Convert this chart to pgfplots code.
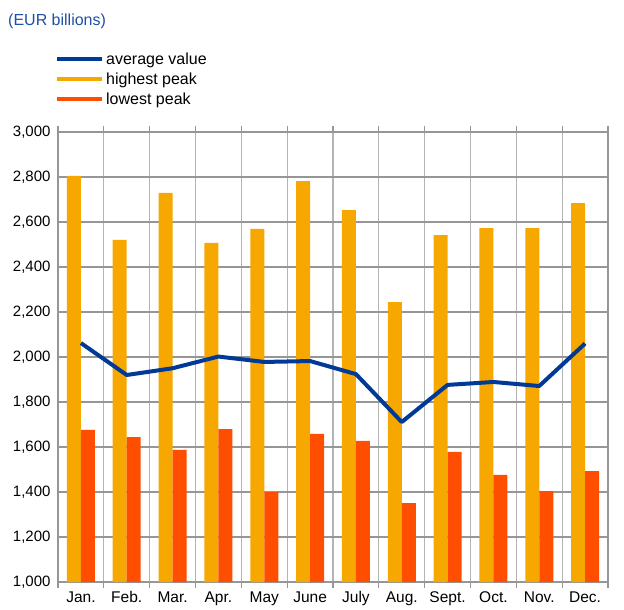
\documentclass[border=0pt]{standalone}
\usepackage{pgfplots}
\pgfplotsset{compat=1.18}
\usepackage{fontspec}
\setmainfont{Liberation Sans}
\definecolor{avgblue}{RGB}{0,58,150}
\definecolor{hiorange}{RGB}{247,168,0}
\definecolor{lored}{RGB}{255,78,0}
\definecolor{titleblue}{RGB}{30,80,165}
\definecolor{gridh}{RGB}{150,150,150}
\definecolor{gridv}{RGB}{180,180,180}
\begin{document}
\begin{tikzpicture}
\begin{axis}[
  name=ax,
  scale only axis,
  width=550bp, height=450bp,
  xmin=-0.5, xmax=11.5,
  ymin=1000, ymax=3000,
  ytick={1000,1200,...,3000},
  xtick={0,...,11},
  xticklabels={Jan.,Feb.,Mar.,Apr.,May,June,July,Aug.,Sept.,Oct.,Nov.,Dec.},
  minor xtick={-0.5,0.5,...,11.5},
  ymajorgrids, xminorgrids,
  major grid style={draw=gridh, line width=1.3bp},
  minor grid style={draw=gridv, line width=1.3bp},
  major tick length=0pt,
  minor tick length=6bp,
  tick align=outside,
  minor x tick style={draw=gridh, line width=1.3bp},
  axis line style={draw=gridh, line width=1.3bp},
  tick label style={font=\fontsize{15bp}{18bp}\selectfont, text=black},
  /pgf/number format/assume math mode=true,
  /pgf/number format/.cd, 1000 sep={,},
  /pgfplots/.cd,
  yticklabel style={xshift=-4bp},
  xticklabel style={yshift=-6bp, text height=11bp, text depth=3bp, font=\fontsize{15.5bp}{18bp}\selectfont},
  legend cell align=left,
  legend style={draw=none, fill=none, at={(0,1)}, anchor=south west,
    yshift=24bp, xshift=-3bp, font=\fontsize{16bp}{19bp}\selectfont,
    row sep=3bp, inner sep=0pt},
  legend image code/.code={\draw[#1] (0bp,0bp) -- (34bp,0bp); \path (34bp,0bp) -- (45bp,0bp);},
  clip=true,
]
\addlegendimage{draw=avgblue, line width=4bp}
\addlegendentry{average value}
\addlegendimage{draw=hiorange, line width=4bp}
\addlegendentry{highest peak}
\addlegendimage{draw=lored, line width=4bp}
\addlegendentry{lowest peak}

\addplot[ybar, bar width=14bp, bar shift=-7bp, fill=hiorange, draw=none, forget plot]
coordinates {(0,2805) (1,2520) (2,2729) (3,2507) (4,2569) (5,2782) (6,2653) (7,2244) (8,2542) (9,2573) (10,2573) (11,2684)};
\addplot[ybar, bar width=14bp, bar shift=7bp, fill=lored, draw=none, forget plot]
coordinates {(0,1676) (1,1644) (2,1587) (3,1680) (4,1400) (5,1658) (6,1627) (7,1351) (8,1578) (9,1476) (10,1404) (11,1493)};
\addplot[draw=avgblue, line width=4bp, line join=round, forget plot]
coordinates {(0,2062) (1,1920) (2,1950) (3,2002) (4,1978) (5,1982) (6,1924) (7,1711) (8,1876) (9,1889) (10,1871) (11,2060)};
\end{axis}
\node[anchor=west, text=titleblue, font=\fontsize{16bp}{19bp}\selectfont, inner sep=0pt]
  at ([xshift=-50bp, yshift=111bp]ax.north west) {(EUR billions)};
\path ([xshift=-58bp, yshift=-28bp]ax.south west) rectangle ([xshift=16bp, yshift=132bp]ax.north east);
\end{tikzpicture}
\end{document}
